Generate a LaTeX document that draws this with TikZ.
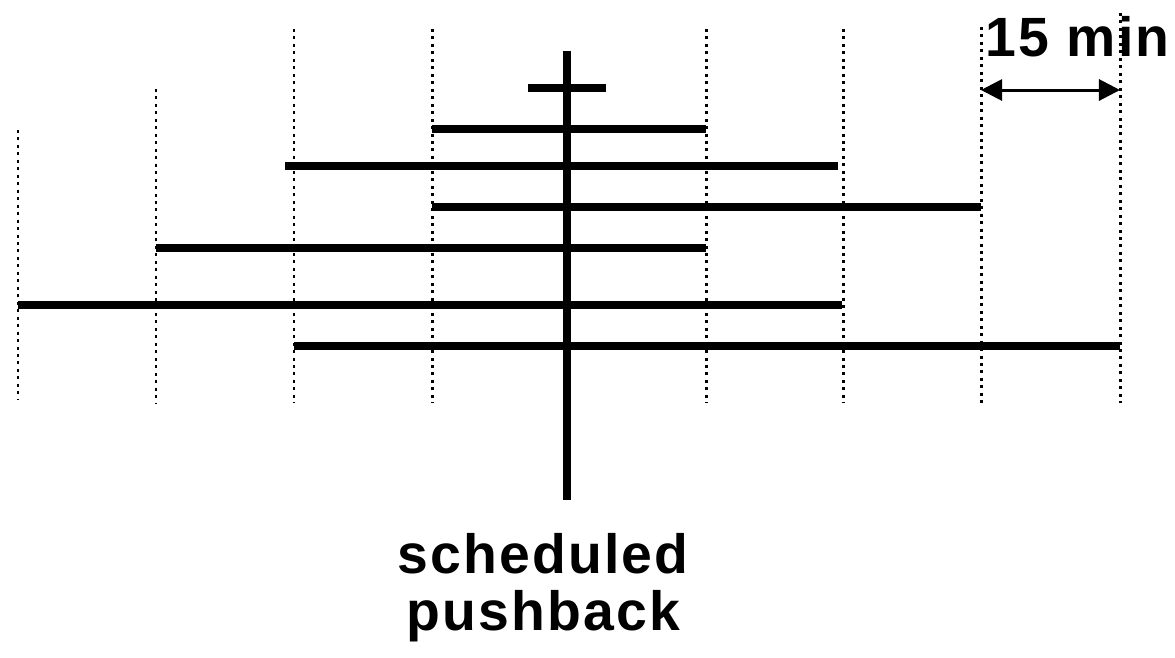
\documentclass[tikz,border=0pt]{standalone}
\usepackage{fontspec}
\setmainfont{Liberation Sans}
\newfontfamily\labelfont[LetterSpace=4]{Liberation Sans}
\usetikzlibrary{arrows.meta}

\tikzset{
	slot/.style = {line width=1.7pt, dash pattern=on 1.7pt off 2.55pt},
	window/.style = {line width=4pt},
	label/.style = {inner sep=0pt, font=\fontsize{31.5pt}{32.5pt}\labelfont\bfseries}
}

\begin{document}
\begin{tikzpicture}[x=0.02cm, y=-0.02cm]
	\useasboundingbox (0,0) rectangle (1175,657);

	% 15 minute slots
	\foreach \x/\t/\b in {18/130/400, 156/89/403, 294/29/403, 432/29/403,
		706/29/403, 843/29/403, 981/27/403, 1120/13/403}
		\draw[slot] (\x,\t) -- (\x,\b);

	% windows round the pushback
	\draw[window] (432,129) -- (706,129);
	\draw[window] (285,166) -- (838,166);
	\draw[window] (432,207) -- (981,207);
	\draw[window] (156,248) -- (706,248);
	\draw[window] (18,305) -- (842,305);
	\draw[window] (294,346) -- (1120,346);

	% scheduled pushback
	\coordinate (pbtop) at (567,51);
	\coordinate (pbbot) at (567,500);
	\coordinate (crossl) at (528,88);
	\coordinate (crossr) at (606,88);
	\draw[window] (pbtop) -- (pbbot);
	\draw[window] (crossl) -- (crossr);
	\node[label, anchor=north, align=center] (sched) at (543,533) {scheduled\\pushback};

	% scale
	\coordinate (scalel) at (981,90);
	\coordinate (scaler) at (1120,90);
	\draw[line width=1.7pt, {Triangle[length=12pt,width=12pt]}-{Triangle[length=12pt,width=12pt]}] (scalel) -- (scaler);
	\node[label, anchor=base west] (quarter) at (985,56) {15 min};
\end{tikzpicture}
\end{document}
